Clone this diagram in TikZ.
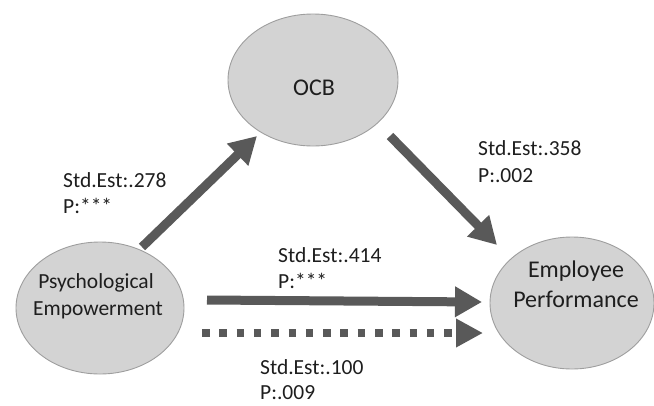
\documentclass[tikz,border=0pt]{standalone}
\usepackage{fontspec}
\setmainfont{Carlito}
\usetikzlibrary{arrows.meta,shapes.geometric}
\definecolor{ellfill}{HTML}{D3D3D3}
\definecolor{elldraw}{HTML}{9E9E9E}
\definecolor{arrowc}{HTML}{595959}
\definecolor{txt}{HTML}{1E1E1E}
\tikzset{
  ell/.style={ellipse, draw=elldraw, fill=ellfill, line width=0.9pt, inner sep=0pt},
  ntext/.style={anchor=base, text=txt, inner sep=0pt, font=\fontsize{24}{29}\selectfont},
  ptext/.style={anchor=base, text=txt, inner sep=0pt, font=\fontsize{21.5}{26}\selectfont},
  lbl/.style={anchor=base west, text=txt, inner sep=0pt, font=\fontsize{21.5}{26}\selectfont},
  bigarrow/.style={draw=arrowc, line width=9pt, line cap=butt,
    -{Triangle[length=27pt,width=29pt]}, arrowc},
  dotarrow/.style={draw=arrowc, line width=8pt, line cap=butt,
    dash pattern=on 7.5pt off 9.8pt,
    -{Triangle[length=27pt,width=27pt]}, arrowc}
}
\begin{document}
\begin{tikzpicture}[x=1pt,y=-1pt]
\useasboundingbox (0,0) rectangle (654,405);
% ellipses
\node[ell, minimum width=170pt, minimum height=132pt] (ocb) at (313,80) {};
\node[ell, minimum width=168pt, minimum height=132pt] (pe) at (100,308) {};
\node[ell, minimum width=164pt, minimum height=132pt] (ep) at (572,303) {};
% ellipse texts
\node[ntext] (ocbt) at (314,95) {OCB};
\node[ptext] (pet1) at (96,288) {Psychological};
\node[ptext] (pet2) at (98,315) {Empowerment};
\node[ntext] (ept1) at (576,277) {Employee};
\node[ntext] (ept2) at (576,307) {Performance};
% arrow end points
\coordinate (a1s) at (142,247);
\coordinate (a1e) at (257,136);
\coordinate (a2s) at (390,136);
\coordinate (a2e) at (497,245);
\coordinate (a3s) at (207,300);
\coordinate (a3e) at (482,302);
\coordinate (a4s) at (202,333);
\coordinate (a4e) at (483,333);
% arrows
\draw[bigarrow] (a1s) -- (a1e);
\draw[bigarrow] (a2s) -- (a2e);
\draw[bigarrow] (a3s) -- (a3e);
\draw[dotarrow] (a4s) -- (a4e);
% labels
\node[lbl] (l1a) at (63,187) {Std.Est:.278};
\node[lbl] (l1b) at (63,213) {P:***};
\node[lbl] (l2a) at (478,155) {Std.Est:.358};
\node[lbl] (l2b) at (478,182) {P:.002};
\node[lbl] (l3a) at (278,262) {Std.Est:.414};
\node[lbl] (l3b) at (278,288) {P:***};
\node[lbl] (l4a) at (260,374) {Std.Est:.100};
\node[lbl] (l4b) at (260,399) {P:.009};
\end{tikzpicture}
\end{document}
